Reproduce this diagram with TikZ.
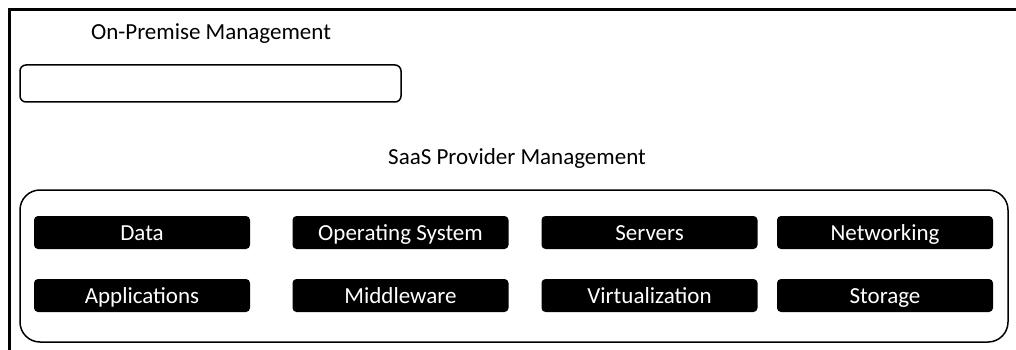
\documentclass[tikz,border=0pt]{standalone}
\usepackage{fontspec}
\setmainfont{Carlito}
\usetikzlibrary{positioning}

\begin{document}
\begin{tikzpicture}[
    x=1pt,y=-1pt,
    title/.style={font=\fontsize{23}{27}\selectfont,text=black,inner sep=0pt,
      text height=16pt,text depth=5pt},
    emptybox/.style={draw,line width=1.5pt,rounded corners=6pt,
      minimum width=381pt,minimum height=37pt,inner sep=0pt},
    groupbox/.style={draw,line width=1.5pt,rounded corners=20pt,
      minimum width=988pt,minimum height=152pt,inner sep=0pt},
    layer/.style={fill=black,text=white,rounded corners=4pt,
      minimum width=216pt,minimum height=33pt,inner sep=0pt,
      text height=17pt,text depth=2pt,
      font=\fontsize{23}{27}\selectfont}
  ]
  \useasboundingbox (0,0) rectangle (1016,350);

  % Outer frame (top and left edges only)
  \coordinate (frameBL) at (9,351);
  \coordinate (frameTL) at (9,10);
  \coordinate (frameTR) at (1017,10);
  \draw[line width=3pt] (frameBL) -- (frameTL) -- (frameTR);

  % On-premise part
  \node[title] (onprem) at (211,34) {On-Premise Management};
  \node[emptybox] (onbox) at (210.5,83.5) {};

  % SaaS provider part
  \node[title] (saas) at (517,159) {SaaS Provider Management};
  \node[groupbox] (saasbox) at (514,266) {};

  % Layers, top row
  \node[layer] (data) at (142,232.5) {Data};
  \node[layer] (os) at (400.5,232.5) {Operating System};
  \node[layer] (servers) at (649.5,232.5) {Servers};
  \node[layer] (network) at (885,232.5) {Networking};

  % Layers, bottom row
  \node[layer] (apps) at (142,295.5) {Applications};
  \node[layer] (middle) at (400.5,295.5) {Middleware};
  \node[layer] (virt) at (649.5,295.5) {Virtualization};
  \node[layer] (storage) at (885,295.5) {Storage};
\end{tikzpicture}
\end{document}
